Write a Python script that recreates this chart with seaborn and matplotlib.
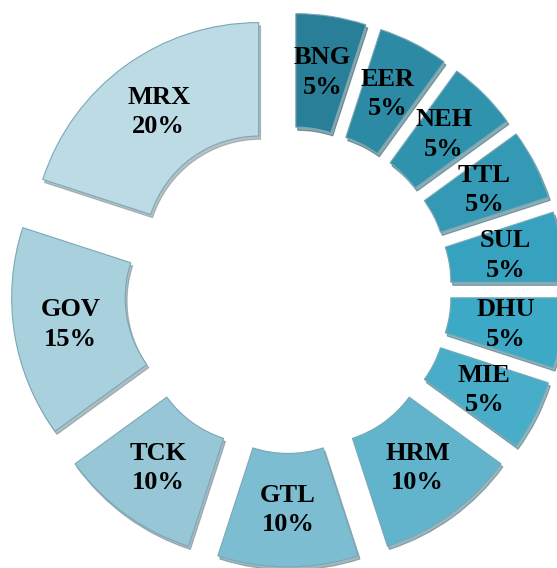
import matplotlib
matplotlib.use("Agg")
import matplotlib.pyplot as plt
import seaborn as sns

# data
names = ["BNG", "EER", "NEH", "TTL", "SUL", "DHU", "MIE", "HRM", "GTL", "TCK", "GOV", "MRX"]
shares = [5, 5, 5, 5, 5, 5, 5, 10, 10, 10, 15, 20]

colors = ["#2a7f98", "#2d8aa4", "#3093ae", "#3399b5", "#37a2bf", "#3caac7",
          "#47adc9", "#62b3cc", "#7cbdd2", "#97c7d7", "#a9d0dd", "#bcdbe5"]

sns.set_theme(style="white")
plt.rcParams['font.family'] = ['Liberation Serif', 'DejaVu Serif']

fig = plt.figure(figsize=(5.57, 5.68), dpi=100)
ax = fig.add_axes([0, 0, 1, 1])

labels = [f"{n}\n{v}%" for n, v in zip(names, shares)]
wedges, texts = ax.pie(
    shares,
    labels=labels,
    colors=colors,
    startangle=90,
    counterclock=False,
    explode=[0.22] * len(shares),
    radius=1.0,
    labeldistance=0.75,
    wedgeprops=dict(width=0.5, edgecolor="#7aa8b5", linewidth=0.8),
    textprops=dict(fontsize=19, fontweight="bold", color="black",
                   ha="center", va="center", multialignment="center",
                   linespacing=1.36),
    shadow=dict(ox=0.006, oy=-0.01, shade=0.4),
)

ax.set_xlim(-288 / 227, (557 - 288) / 227)
ax.set_ylim(-(568 - 290) / 227, 290 / 227)
ax.set_aspect("auto")
ax.axis("off")

fig.savefig("out.png", dpi=100)
